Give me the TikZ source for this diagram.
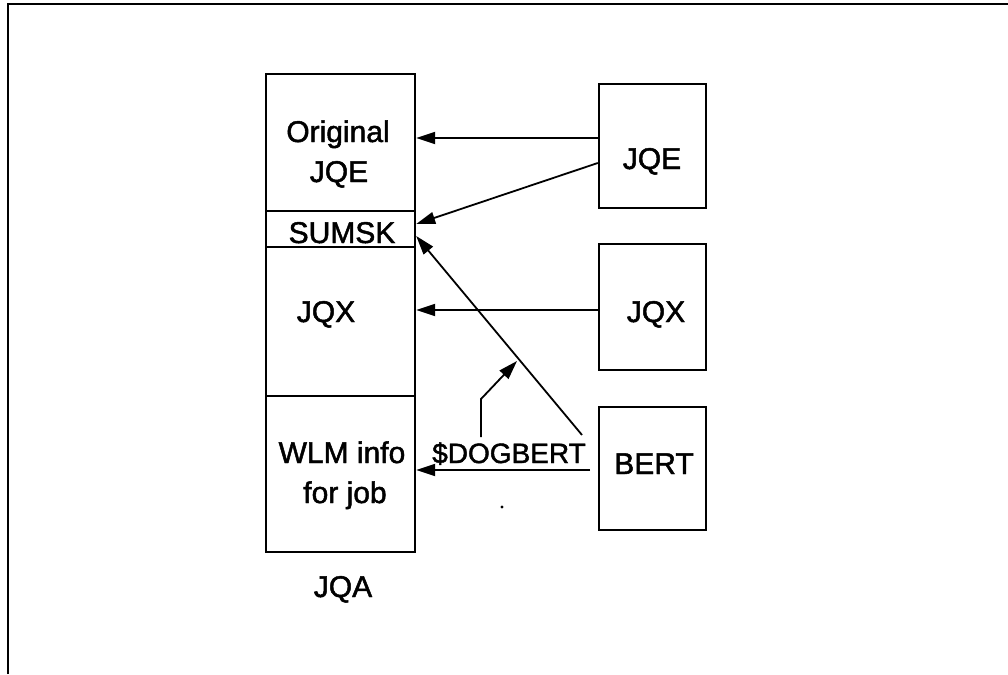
\documentclass[tikz,border=0pt]{standalone}
\usepackage{fontspec}
\setmainfont{Liberation Sans}
\newfontfamily\heavy{Liberation Sans}[FakeBold=1.6]
\usetikzlibrary{arrows.meta}
\begin{document}
\begin{tikzpicture}[x=1pt,y=-1pt,
  box/.style={draw,line width=2.4pt,inner sep=0pt,minimum width=#1},
  lbl/.style={anchor=base,inner sep=0pt,font=\heavy\fontsize{30}{36}\selectfont},
  arr/.style={line width=1.8pt,-{Triangle[length=19pt,width=12pt]}},
  frame/.style={line width=2.4pt}]
\useasboundingbox (0,0) rectangle (1008,674);
\draw[frame] (8,674) -- (8,4) -- (1008,4);
% left column
\node[box=149pt,minimum height=137pt] (orig) at (340.5,142.5) {};
\node[box=149pt,minimum height=36pt] (sumsk) at (340.5,229) {};
\node[box=149pt,minimum height=149pt] (jqxl) at (340.5,321.5) {};
\node[box=149pt,minimum height=156pt] (wlm) at (340.5,474) {};
% right boxes
\node[box=107pt,minimum height=124pt] (jqe) at (652.5,146) {};
\node[box=107pt,minimum height=126pt] (jqx) at (652.5,307) {};
\node[box=107pt,minimum height=123pt] (bert) at (652.5,468.5) {};
% labels
\node[lbl] (t1) at (338,142) {Original};
\node[lbl] (t2) at (339,182) {JQE};
\node[lbl] (t3) at (342,243) {SUMSK};
\node[lbl] (t4) at (326,322) {JQX};
\node[lbl] (t5) at (342,463) {WLM info};
\node[lbl] (t6) at (345,503) {for job};
\node[lbl] (t7) at (343,597) {JQA};
\node[lbl] (t8) at (652,169) {JQE};
\node[lbl] (t9) at (656,322) {JQX};
\node[lbl] (t10) at (654,474) {BERT};
\node[lbl,font=\heavy\fontsize{28}{34}\selectfont] (t11) at (509,463) {\$DOGBERT};
% connectors
\draw[arr] (jqe.west |- 0,138) -- (orig.east |- 0,138);
\draw[arr] (jqe.west |- 0,163) -- (sumsk.east |- 0,224);
\draw[arr] (jqx.west |- 0,310) -- (jqxl.east |- 0,310);
\coordinate (d0) at (582,435);
\coordinate (d1) at (517,361);
\draw[arr] (d0) -- (sumsk.east |- 0,236);
\coordinate (b0) at (481,437);
\coordinate (b1) at (481,399);
\draw[arr] (b0) -- (b1) -- (d1);
\coordinate (u0) at (590,470);
\draw[arr] (u0) -- (wlm.east |- 0,470);
\fill (502,507) circle (1.6pt);
\end{tikzpicture}
\end{document}
